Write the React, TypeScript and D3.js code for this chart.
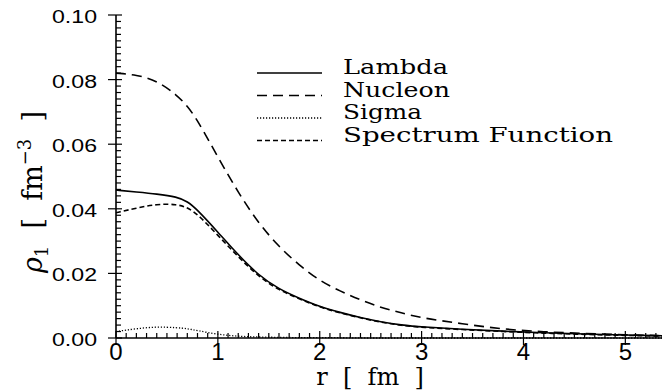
import * as d3 from "d3";

// radius grid (fm) shared by all curves
const rValues = [0, 0.2, 0.4, 0.6, 0.7, 0.8, 1.0, 1.2, 1.4, 1.6, 1.8, 2.0, 2.2, 2.4, 2.6, 2.8, 3.0, 3.4, 3.8, 4.2, 4.6, 5.0, 5.36];

const lambda = [0.0458, 0.0452, 0.0446, 0.0437, 0.0423, 0.0397, 0.0328, 0.0257, 0.0194, 0.0151, 0.0123, 0.0097, 0.0079, 0.0063, 0.005, 0.004, 0.0034, 0.0027, 0.0021, 0.0016, 0.0012, 0.0009, 0.0007];
const nucleon = [0.082, 0.0815, 0.0797, 0.0752, 0.0718, 0.0675, 0.056, 0.045, 0.0355, 0.0282, 0.0225, 0.0177, 0.0145, 0.0118, 0.0094, 0.0078, 0.0062, 0.0044, 0.0027, 0.0019, 0.0014, 0.001, 0.0007];
const sigma = [0.002, 0.0029, 0.0035, 0.0032, 0.0029, 0.0023, 0.0011, 0.0005, 0.0003, 0.0002, 0.0001, 0.0001, 0.0001, 0, 0, 0, 0, 0, 0, 0, 0, 0, 0];
const spectrum = [0.0388, 0.0402, 0.0415, 0.0414, 0.0404, 0.0384, 0.0318, 0.0251, 0.019, 0.0148, 0.0121, 0.0095, 0.0078, 0.0062, 0.0049, 0.0039, 0.0033, 0.0026, 0.002, 0.0015, 0.0011, 0.0008, 0.0006];

const seriesNames = ["Lambda", "Nucleon", "Sigma", "Spectrum Function"];
const xTickLabels = ["0", "1", "2", "3", "4", "5"];
const yTickLabels = ["0.00", "0.02", "0.04", "0.06", "0.08", "0.10"];

const W = 662;
const H = 390;

export default function App() {
  const x = d3.scaleLinear().domain([0, 5.36]).range([116, 662]);
  const y = d3.scaleLinear().domain([0, 0.1]).range([338, 15]);

  const line = (vals: number[]) =>
    d3
      .line<number>()
      .x((_, i) => x(rValues[i]))
      .y((d) => y(d))
      .curve(d3.curveBasis)(vals) || "";

  const styles = [
    { data: lambda, dash: "none", w: 1.6 },
    { data: nucleon, dash: "10,6", w: 1.6 },
    { data: sigma, dash: "1.2,1.8", w: 1.3 },
    { data: spectrum, dash: "5,3", w: 1.6 },
  ];
  const legendW = [105, 107, 79, 270];

  const xMinor = d3.range(0, 54).map((i) => i / 10);
  const yMinor = d3.range(0, 51).map((i) => i * 0.002);

  return (
    <svg width={W} height={H} style={{ position: "absolute", left: 0, top: 0, background: "#fff" }}>
      {/* axes */}
      <line x1={116} x2={116} y1={y(0.1)} y2={338} stroke="#000" strokeWidth={1.6} />
      <line x1={116} x2={662} y1={338} y2={338} stroke="#000" strokeWidth={1.6} />
      {yMinor.map((v, i) => (
        <line key={"ym" + i} x1={i % 10 === 0 ? 108 : 116} x2={i % 10 === 0 ? 122 : 121} y1={y(v)} y2={y(v)} stroke="#000" strokeWidth={1.2} />
      ))}
      {xMinor.map((v, i) => (
        <line key={"xm" + i} x1={x(v)} x2={x(v)} y1={i % 10 === 0 ? 345 : 338} y2={i % 10 === 0 ? 331 : 333} stroke="#000" strokeWidth={1.2} />
      ))}
      {yTickLabels.map((t, i) => (
        <text key={t} x={97} y={y(i * 0.02) + 8} textAnchor="end" fontFamily="Liberation Sans, Arial, sans-serif" fontSize={18} textLength={45} lengthAdjust="spacingAndGlyphs">
          {t}
        </text>
      ))}
      {xTickLabels.map((t, i) => (
        <text key={t} x={x(i)} y={360} textAnchor="middle" fontFamily="Liberation Sans, Arial, sans-serif" fontSize={24}>
          {t}
        </text>
      ))}
      {/* axis titles */}
      <text x={370} y={385} textAnchor="middle" fontFamily="DejaVu Serif, serif" fontSize={24} xmlSpace="preserve">
        r  [  fm  ]
      </text>
      <text transform="translate(42,192) rotate(-90)" textAnchor="middle" fontFamily="DejaVu Serif, serif" fontSize={27} xmlSpace="preserve">
        <tspan fontStyle="italic">ρ</tspan>
        <tspan fontSize={18} dy={6}>1</tspan>
        <tspan dy={-6}>  [  fm</tspan>
        <tspan fontSize={18} dy={-11}>−3</tspan>
        <tspan dy={11}>  ]</tspan>
      </text>
      {/* curves */}
      {styles.map((s, i) => (
        <path key={"c" + i} d={line(s.data)} fill="none" stroke="#000" strokeWidth={s.w} strokeDasharray={s.dash} />
      ))}
      {/* legend */}
      {seriesNames.map((n, i) => {
        const ly = 73 + i * 22.5;
        return (
          <g key={n}>
            <line x1={257} x2={322} y1={ly} y2={ly} stroke="#000" strokeWidth={styles[i].w} strokeDasharray={styles[i].dash} />
            <text x={343} y={ly + 1} fontFamily="DejaVu Serif, serif" fontSize={21} textLength={legendW[i]} lengthAdjust="spacingAndGlyphs">
              {n}
            </text>
          </g>
        );
      })}
    </svg>
  );
}
